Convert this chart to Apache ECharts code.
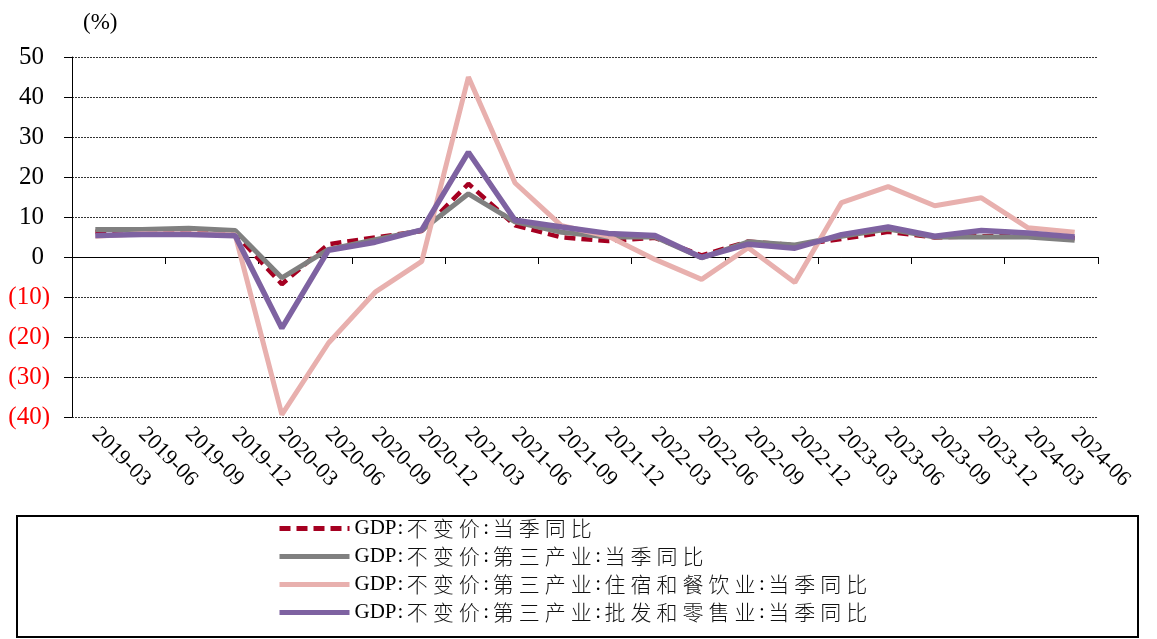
<!DOCTYPE html>
<html>
<head>
<meta charset="utf-8">
<script src="https://cdn.jsdelivr.net/npm/echarts@6/dist/echarts.min.js"></script>
<style>
  html, body { margin: 0; padding: 0; background: #fff; }
  #chart { width: 1157px; height: 639px; }
</style>
</head>
<body>
<div id="chart"></div>
<script>
// -------------------------------
// 数据
// -------------------------------
const quarters = [
  '2019-03', '2019-06', '2019-09', '2019-12', '2020-03', '2020-06', '2020-09', '2020-12',
  '2021-03', '2021-06', '2021-09', '2021-12', '2022-03', '2022-06', '2022-09', '2022-12',
  '2023-03', '2023-06', '2023-09', '2023-12', '2024-03', '2024-06'
]
const gdpYoy = [6.3, 6.0, 5.9, 5.8, -6.8, 3.2, 4.9, 6.5, 18.3, 7.9, 4.9, 4.0, 4.8, 0.4, 3.9, 2.9, 4.5, 6.3, 4.9, 5.2, 5.3, 4.7]
const tertiaryYoy = [6.9, 6.9, 7.2, 6.6, -5.2, 1.9, 4.3, 6.7, 15.8, 8.8, 6.2, 5.0, 5.0, -0.2, 3.8, 3.0, 5.2, 7.0, 5.0, 5.0, 5.0, 4.2]
const cateringYoy = [5.2, 5.8, 5.8, 5.5, -39.4, -21.5, -8.8, -1.1, 45.0, 18.5, 7.8, 5.2, -0.6, -5.6, 2.3, -6.4, 13.6, 17.6, 12.8, 14.8, 7.3, 6.2]
const retailYoy = [5.4, 5.6, 5.6, 5.3, -17.8, 1.7, 3.7, 6.8, 26.2, 9.2, 7.5, 5.9, 5.4, -0.1, 3.2, 2.2, 5.6, 7.5, 5.2, 6.6, 6.0, 5.0]
const seriesNames = [
  'GDP:不变价:当季同比',
  'GDP:不变价:第三产业:当季同比',
  'GDP:不变价:第三产业:住宿和餐饮业:当季同比',
  'GDP:不变价:第三产业:批发和零售业:当季同比'
]

const serif = '"Liberation Serif", "Times New Roman", serif'
const cjk = '"Noto Sans CJK SC", sans-serif'

// 图例文字: 西文用衬线体, 中文逐字加间距
const richName = (name) =>
  name.replace(/(:)|([A-Za-z0-9]+)|([^\x00-\x7F])/g, (m, colon, latin, han) => {
    if (colon) return '{k|:}'
    if (latin) return '{l|' + latin + '}'
    return '{c|' + han + '}'
  })

const chart = echarts.init(document.getElementById('chart'))

const lineSeries = (name, data, color, width, type, z) => ({
  name,
  type: 'line',
  data,
  xAxisIndex: 0,
  symbol: 'none',
  z,
  lineStyle: { color, width, type },
  itemStyle: { color },
  animation: false
})

chart.setOption({
  animation: false,
  title: {
    text: '(%)',
    left: 78,
    top: 6,
    textStyle: { fontFamily: serif, fontSize: 23, fontWeight: 'normal', color: '#000' }
  },
  grid: { left: 72, right: 59, top: 57, bottom: 222, containLabel: false },
  legend: {
    orient: 'vertical',
    left: 277,
    top: 518,
    height: 121,
    padding: 0,
    itemWidth: 70,
    itemHeight: 14,
    itemGap: 7,
    data: seriesNames,
    formatter: richName,
    itemStyle: { opacity: 0 },
    lineStyle: { width: 5 },
    textStyle: {
      color: '#000',
      rich: {
        l: { fontFamily: serif, fontSize: 21, color: '#000', lineHeight: 24 },
        k: { fontFamily: serif, fontSize: 21, color: '#000', lineHeight: 24, padding: [0, 1, 0, 1] },
        c: { fontFamily: cjk, fontSize: 21, fontWeight: 300, color: '#111', lineHeight: 24, padding: [0, 2.5, 0, 2.5] }
      }
    }
  },
  graphic: [
    {
      type: 'rect',
      shape: { x: 17, y: 516, width: 1121, height: 121 },
      style: { fill: null, stroke: '#000', lineWidth: 2 },
      silent: true
    }
  ],
  xAxis: [
    {
      type: 'category',
      data: quarters,
      position: 'bottom',
      axisLine: { onZero: true, lineStyle: { color: '#000', width: 1 } },
      axisTick: { show: true, length: 7, lineStyle: { color: '#000' } },
      axisLabel: { show: false },
      splitLine: { show: false }
    },
    {
      type: 'category',
      data: quarters,
      position: 'bottom',
      axisLine: { show: false, onZero: false },
      axisTick: { show: false },
      axisLabel: {
        rotate: -45,
        margin: 14,
        interval: 0,
        fontFamily: serif,
        fontSize: 22,
        color: '#000'
      },
      splitLine: { show: false }
    }
  ],
  yAxis: {
    type: 'value',
    min: -40,
    max: 50,
    interval: 10,
    axisLine: { show: true, lineStyle: { color: '#000', width: 1 } },
    axisTick: { show: true, length: 8, lineStyle: { color: '#000' } },
    axisLabel: {
      margin: 22,
      formatter: (v) => (v < 0 ? '{n|(' + -v + ')}' : '{p|' + v + '}'),
      rich: {
        p: { fontFamily: serif, fontSize: 25, color: '#000', padding: [0, 6, 0, 0] },
        n: { fontFamily: serif, fontSize: 25, color: '#ff0000' }
      }
    },
    splitLine: { show: true, lineStyle: { color: '#333', width: 1, type: [2, 1] } }
  },
  series: [
    lineSeries(seriesNames[0], gdpYoy, '#a50021', 4.5, [11, 6], 2),
    lineSeries(seriesNames[1], tertiaryYoy, '#808080', 5, 'solid', 3),
    lineSeries(seriesNames[2], cateringYoy, '#e8b0ae', 5, 'solid', 4),
    lineSeries(seriesNames[3], retailYoy, '#7e62a1', 5.5, 'solid', 5)
  ]
})
</script>
</body>
</html>
